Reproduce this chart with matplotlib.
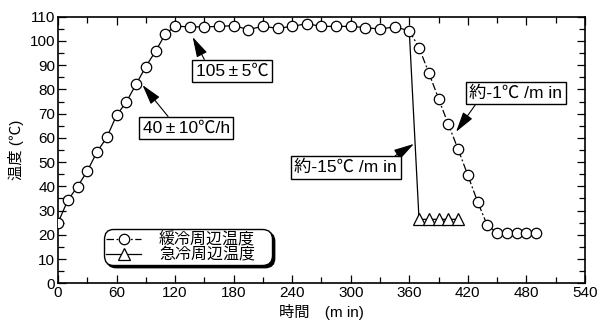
import numpy as np
import matplotlib
matplotlib.use("Agg")
import matplotlib.pyplot as plt
from matplotlib.ticker import MultipleLocator

plt.rcParams['font.family'] = ['Liberation Sans', 'Noto Sans CJK JP', 'DejaVu Sans']
plt.rcParams['font.size'] = 10

# heating + holding (shared by both series)
t_heat = [0, 10, 20, 30, 40, 50, 60, 70, 80, 90, 100, 110, 120,
          135, 150, 165, 180, 195, 210, 225, 240, 255, 270, 285, 300, 315, 330, 345, 360]
temp_heat = [25.0, 34.2, 39.9, 46.3, 54.2, 60.2, 69.3, 74.8, 82.1, 89.4, 95.8, 102.8, 106.1,
             105.8, 105.8, 106.0, 106.3, 104.7, 106.0, 105.2, 106.0, 107.1, 106.0, 106.0, 106.0,
             105.5, 104.9, 105.8, 104.2]

# slow cooling
t_slow = [360, 370, 380, 390, 400, 410, 420, 430, 440, 450, 460, 470, 480, 490]
temp_slow = [104.2, 97.2, 86.9, 76.2, 65.6, 55.4, 44.6, 33.7, 23.9, 20.9, 20.9, 20.9, 20.9, 20.9]

# rapid cooling
t_fast = [370, 380, 390, 400, 410]
temp_fast = [26.4, 26.4, 26.4, 26.4, 26.4]

fig = plt.figure(figsize=(6.08, 3.27), dpi=100)
ax = fig.add_axes([0.0954, 0.1336, 0.8666, 0.8154])

dashdot = (0, (6, 2, 1.5, 2))

# rapid series: solid line through heating, then triangles
tf = t_heat + t_fast
yf = temp_heat + temp_fast
ax.plot(tf, yf, color='k', lw=0.9, zorder=2)
ax.plot(t_fast, temp_fast, ls='none', marker='^', ms=8.5, mfc='w', mec='k', mew=0.9, zorder=3)
l_fast, = ax.plot([], [], color='k', lw=0.9, marker='^', ms=8.5, mfc='w', mec='k', mew=0.9)

# slow series
ax.plot(t_slow, temp_slow, color='k', lw=0.9, ls=dashdot, zorder=2)
ax.plot(t_heat + t_slow[1:], temp_heat + temp_slow[1:], ls='none', marker='o', ms=7.5,
        mfc='w', mec='k', mew=0.9, zorder=4)
l_slow, = ax.plot([], [], color='k', lw=0.9, ls=dashdot, marker='o', ms=7.5,
                  mfc='w', mec='k', mew=0.9)

ax.set_xlim(0, 540)
ax.set_ylim(0, 110)
ax.xaxis.set_major_locator(MultipleLocator(60))
ax.xaxis.set_minor_locator(MultipleLocator(30))
ax.yaxis.set_major_locator(MultipleLocator(10))
ax.yaxis.set_minor_locator(MultipleLocator(5))
ax.tick_params(which='both', direction='in', top=True, right=True, labelsize=11, pad=2)
ax.tick_params(which='major', length=6, width=0.9)
ax.tick_params(which='minor', length=4, width=0.9)
for s in ax.spines.values():
    s.set_linewidth(1.2)

ax.set_xlabel('時間　(m in)', fontsize=11, labelpad=3)
ax.set_ylabel('温度 (℃)', fontsize=11, labelpad=4)

leg = ax.legend([l_slow, l_fast], ['緩冷周辺温度', '急冷周辺温度'],
                loc='lower left', bbox_to_anchor=(0.087, 0.069, 0.319, 0.14), mode='expand',
                borderaxespad=0,
                fontsize=11.5, handlelength=2.2, handletextpad=1.1, labelspacing=0.02,
                borderpad=0.15, fancybox=True, shadow={'color': 'k', 'alpha': 1},
                framealpha=1, edgecolor='k')
leg.get_frame().set_linewidth(1.0)
leg.get_frame().set_boxstyle('round,pad=0,rounding_size=0.6')

box = dict(boxstyle='square,pad=0.2', fc='w', ec='k', lw=1.0)

def note(text, xy, xytext, relpos):
    ax.annotate(text, xy=xy, xytext=xytext, ha='center', va='center', fontsize=12.5,
                bbox=box, zorder=6,
                arrowprops=dict(arrowstyle='-|>,head_length=1.0,head_width=0.28',
                                color='k', lw=0.8, relpos=relpos, shrinkA=0, shrinkB=0))

note('105\u2009±\u20095℃', (138, 101.6), (178.2, 87.6), (0.15, 1))
note('40\u2009±\u200910℃/h', (86.6, 81.8), (131.3, 64.1), (0.33, 1))
note('約-15℃ /m in', (364.7, 57.5), (294.9, 47.8), (0.92, 1))
note('約-1℃ /m in', (408, 62.5), (469, 78.6), (0.1, 0))

fig.savefig('out.png', dpi=100)
